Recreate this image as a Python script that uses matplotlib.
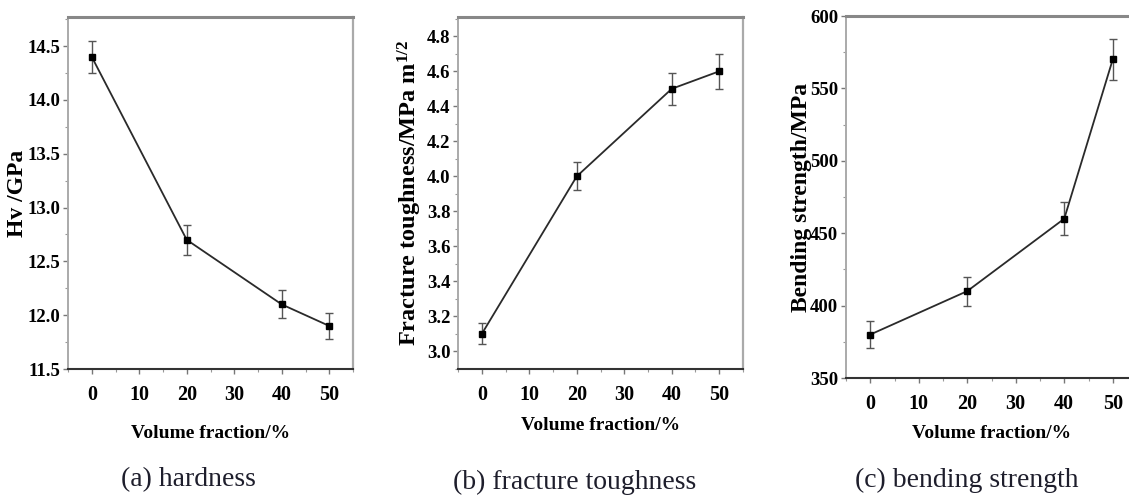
import matplotlib
matplotlib.use("Agg")
import matplotlib.pyplot as plt
from matplotlib.ticker import MultipleLocator

plt.rcParams['font.family'] = ['Liberation Serif', 'DejaVu Serif']
plt.rcParams['mathtext.fontset'] = 'custom'
plt.rcParams['mathtext.rm'] = 'Liberation Serif:bold'
plt.rcParams['mathtext.bf'] = 'Liberation Serif:bold'
plt.rcParams['mathtext.default'] = 'rm'

# ---- data ----
volume_fraction = [0, 20, 40, 50]

hardness = [14.4, 12.7, 12.1, 11.9]
hardness_err = [0.15, 0.14, 0.13, 0.12]

toughness = [3.1, 4.0, 4.5, 4.6]
toughness_err = [0.06, 0.08, 0.09, 0.10]

strength = [380, 410, 460, 570]
strength_err = [9.5, 10, 11.5, 14]

x_ticks = [0, 10, 20, 30, 40, 50]
xlabel = "Volume fraction/%"
ylabels = ["Hv /GPa", r"Fracture toughness/MPa m$^{1/2}$", "Bending strength/MPa"]
captions = ["(a) hardness", "(b) fracture toughness", "(c) bending strength"]

W, H = 1129, 504
fig = plt.figure(figsize=(W / 100, H / 100), dpi=100)


def px_axes(left, top, right, bottom):
    return fig.add_axes([left / W, 1 - bottom / H, (right - left) / W, (bottom - top) / H])


axes = [
    px_axes(68, 17, 353, 369),
    px_axes(458, 17, 743, 369),
    px_axes(846, 16, 1137, 378),
]

series = [(hardness, hardness_err), (toughness, toughness_err), (strength, strength_err)]
ylims = [(11.5, 14.77), (2.9, 4.91), (350, 600)]
ymajor = [0.5, 0.2, 50]
yfmt = ["{:.1f}", "{:.1f}", "{:.0f}"]
ylabel_x = [18, 410, 801]
ylabel_size = [17, 17.5, 17]
xlabel_y = [433, 425, 433]
caption_pos = [(188, 480), (575, 482), (967, 480)]

for i, ax in enumerate(axes):
    vals, errs = series[i]
    ax.errorbar(volume_fraction, vals, yerr=errs, color='#2a2a2a', lw=1.3,
                marker='s', ms=3.8, mfc='black', mec='black',
                ecolor='#555555', elinewidth=1.0, capsize=3, capthick=1.0, zorder=3)
    ax.set_xlim(-5, 55)
    ax.set_ylim(*ylims[i])
    ax.set_xticks(x_ticks)
    ax.xaxis.set_minor_locator(MultipleLocator(5))
    ax.yaxis.set_major_locator(MultipleLocator(ymajor[i]))
    ax.yaxis.set_minor_locator(MultipleLocator(ymajor[i] / 2))
    lo, hi = ylims[i]
    ticks = [t for t in ax.get_yticks() if lo - 1e-9 <= t <= hi + 1e-9]
    ax.set_yticks(ticks)
    ax.set_yticklabels([yfmt[i].format(t) for t in ticks])
    ax.set_ylim(*ylims[i])

    ax.tick_params(axis='both', which='major', direction='out', length=3.5, width=1,
                   color='#777777')
    ax.tick_params(axis='both', which='minor', direction='out', length=2, width=0.8,
                   color='#999999')
    ax.tick_params(axis='y', which='major', labelsize=13.5, pad=2)
    ax.tick_params(axis='x', which='major', labelsize=14.5, pad=8)
    for lab in ax.get_xticklabels() + ax.get_yticklabels():
        lab.set_fontweight('bold')

    ax.spines['top'].set_color('#888888')
    ax.spines['top'].set_linewidth(2.2)
    ax.spines['right'].set_color('#aaaaaa')
    ax.spines['right'].set_linewidth(1.6)
    ax.spines['left'].set_color('#aaaaaa')
    ax.spines['left'].set_linewidth(1.4)
    ax.spines['bottom'].set_color('#333333')
    ax.spines['bottom'].set_linewidth(1.5)

    ax.set_xlabel(xlabel, fontsize=14, fontweight='bold')
    bb = ax.get_position()
    ax.xaxis.set_label_coords(0.5, (1 - xlabel_y[i] / H - bb.y0) / bb.height)
    ax.xaxis.label.set_va('center')

    ax.set_ylabel(ylabels[i], fontsize=ylabel_size[i], fontweight='bold')
    ax.yaxis.set_label_coords((ylabel_x[i] / W - bb.x0) / bb.width, 0.5)
    ax.yaxis.label.set_va('center')

    cx, cy = caption_pos[i]
    fig.text(cx / W, 1 - cy / H, captions[i], fontsize=20, color='#1e1e2c',
             ha='center', va='center')

fig.savefig("out.png", dpi=100)
